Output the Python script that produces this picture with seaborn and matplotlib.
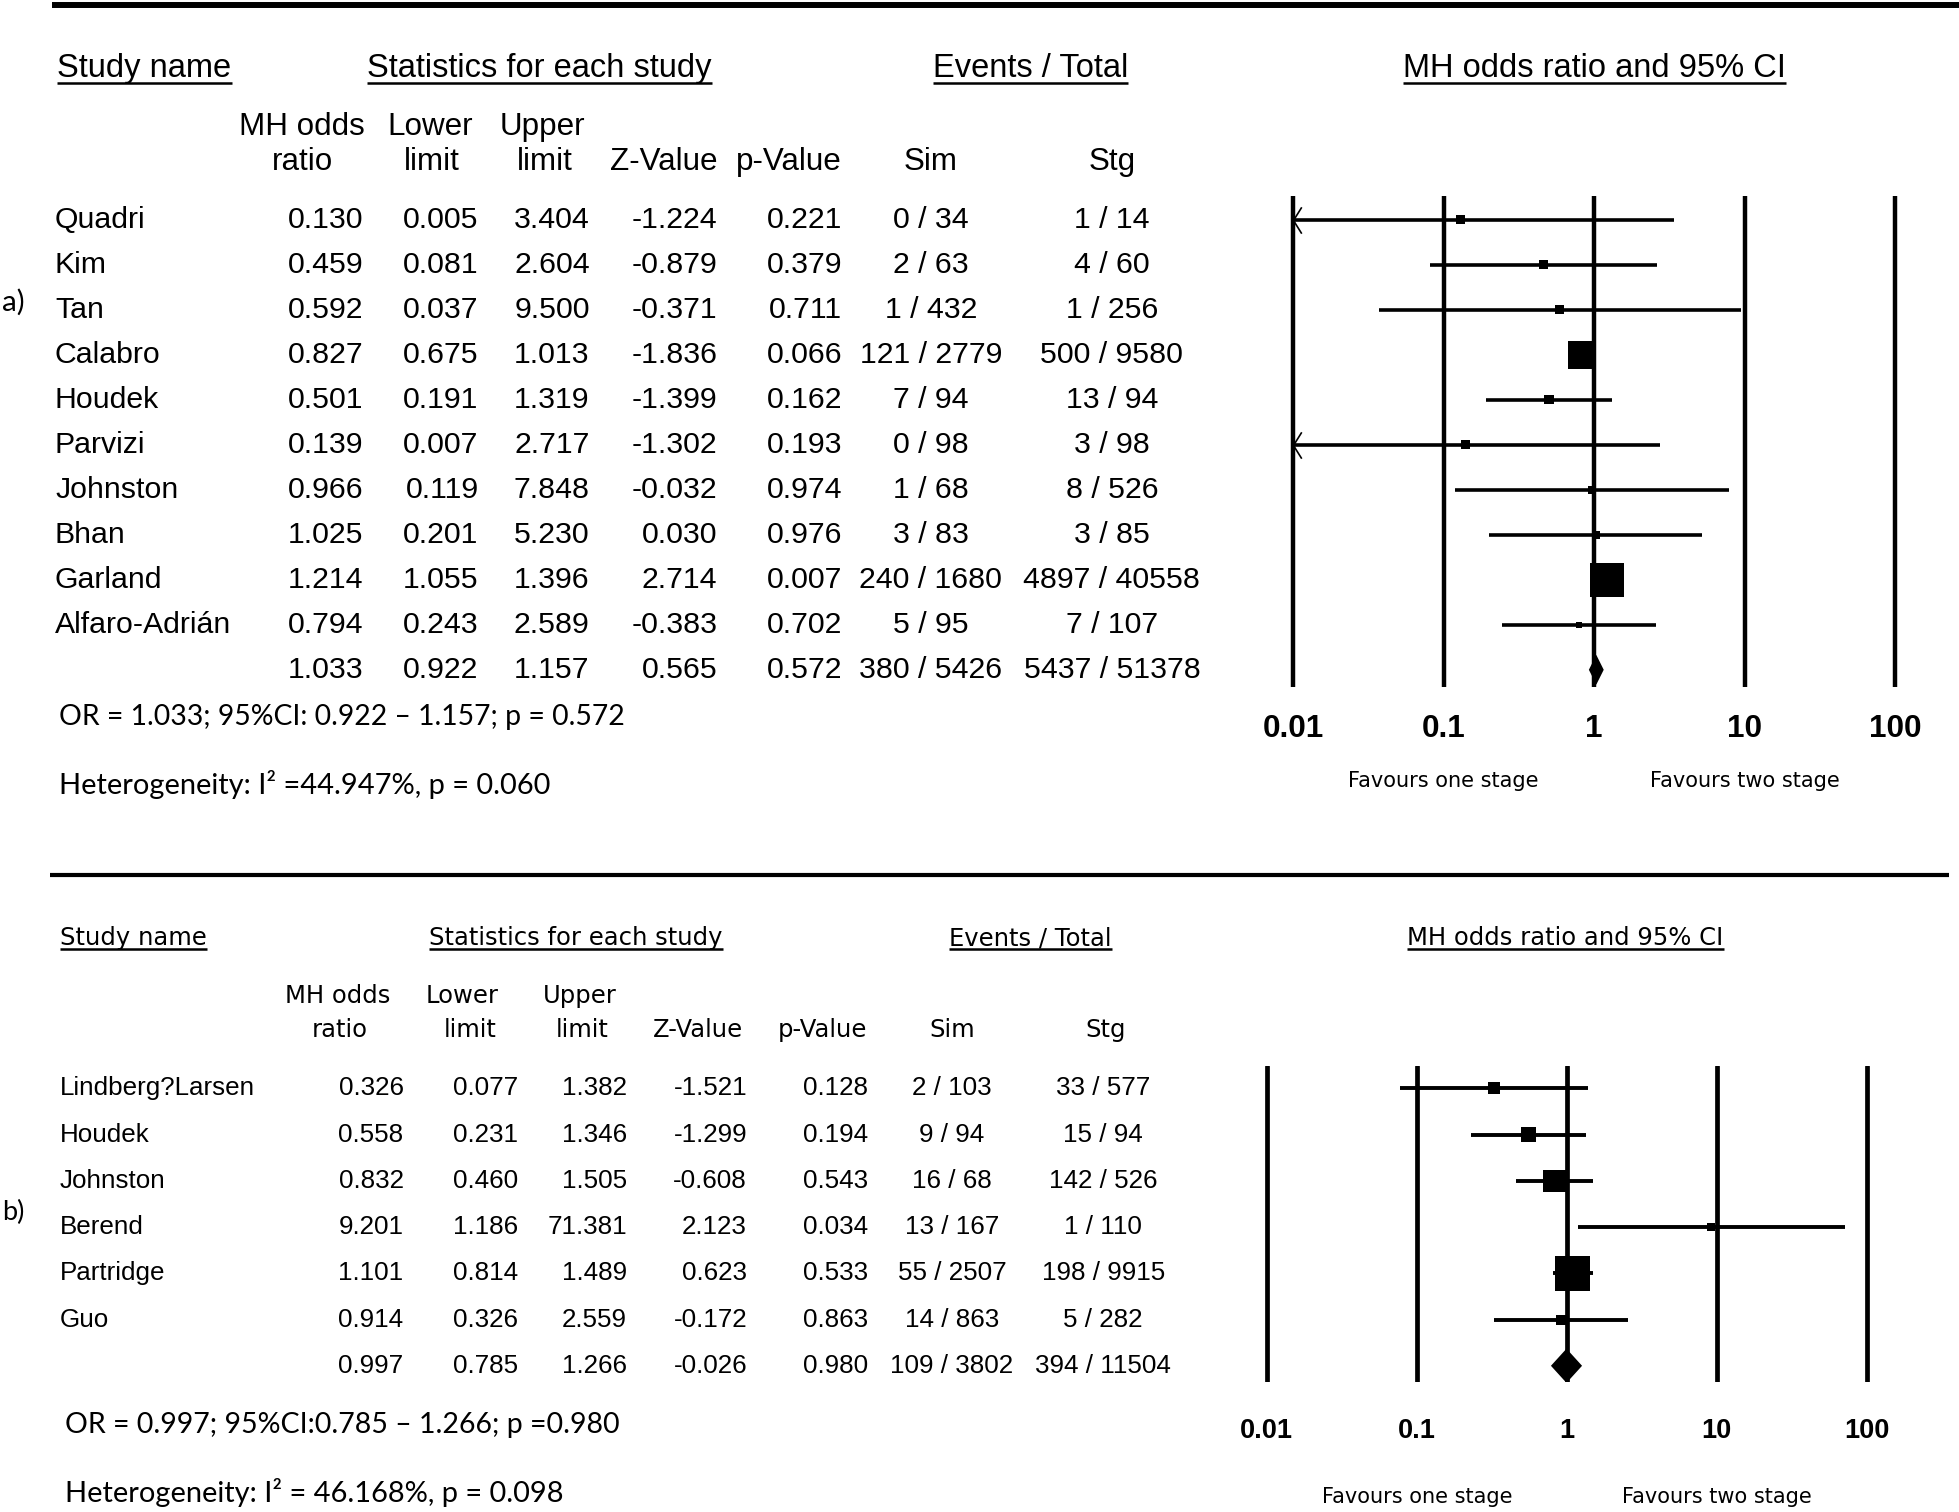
import numpy as np
import pandas as pd
import seaborn as sns
import matplotlib
matplotlib.use("Agg")
import matplotlib.pyplot as plt
from matplotlib import transforms, font_manager
from matplotlib.lines import Line2D
from matplotlib.path import Path

# ---------------- data: panel a ----------------
study_a = ["Quadri", "Kim", "Tan", "Calabro", "Houdek", "Parvizi", "Johnston", "Bhan", "Garland", "Alfaro-Adrián"]
or_a = [0.130, 0.459, 0.592, 0.827, 0.501, 0.139, 0.966, 1.025, 1.214, 0.794]
lower_a = [0.005, 0.081, 0.037, 0.675, 0.191, 0.007, 0.119, 0.201, 1.055, 0.243]
upper_a = [3.404, 2.604, 9.500, 1.013, 1.319, 2.717, 7.848, 5.230, 1.396, 2.589]
z_a = [-1.224, -0.879, -0.371, -1.836, -1.399, -1.302, -0.032, 0.030, 2.714, -0.383]
p_a = [0.221, 0.379, 0.711, 0.066, 0.162, 0.193, 0.974, 0.976, 0.007, 0.702]
sim_a = ["0 / 34", "2 / 63", "1 / 432", "121 / 2779", "7 / 94", "0 / 98", "1 / 68", "3 / 83", "240 / 1680", "5 / 95"]
stg_a = ["1 / 14", "4 / 60", "1 / 256", "500 / 9580", "13 / 94", "3 / 98", "8 / 526", "3 / 85", "4897 / 40558", "7 / 107"]
weight_a = [3.3, 3.3, 3.3, 30.5, 3.3, 3.3, 2.6, 2.6, 46.6, 1.5]
pooled_a = [1.033, 0.922, 1.157, 0.565, 0.572]
pooled_events_a = ["380 / 5426", "5437 / 51378"]
summary_a = "OR = 1.033; 95%CI: 0.922 \u2013 1.157; p = 0.572"
hetero_a = "Heterogeneity: I\u00b2 =44.947%, p = 0.060"

# ---------------- data: panel b ----------------
study_b = ["Lindberg?Larsen", "Houdek", "Johnston", "Berend", "Partridge", "Guo"]
or_b = [0.326, 0.558, 0.832, 9.201, 1.101, 0.914]
lower_b = [0.077, 0.231, 0.460, 1.186, 0.814, 0.326]
upper_b = [1.382, 1.346, 1.505, 71.381, 1.489, 2.559]
z_b = [-1.521, -1.299, -0.608, 2.123, 0.623, -0.172]
p_b = [0.128, 0.194, 0.543, 0.034, 0.533, 0.863]
sim_b = ["2 / 103", "9 / 94", "16 / 68", "13 / 167", "55 / 2507", "14 / 863"]
stg_b = ["33 / 577", "15 / 94", "142 / 526", "1 / 110", "198 / 9915", "5 / 282"]
weight_b = [6.4, 10.0, 22.4, 2.5, 54.3, 4.4]
pooled_b = [0.997, 0.785, 1.266, -0.026, 0.980]
pooled_events_b = ["109 / 3802", "394 / 11504"]
summary_b = "OR = 0.997; 95%CI:0.785 \u2013 1.266; p =0.980"
hetero_b = "Heterogeneity: I\u00b2 = 46.168%, p = 0.098"

tick_values = [0.01, 0.1, 1, 10, 100]
tick_labels = ["0.01", "0.1", "1", "10", "100"]
favours = ["Favours one stage", "Favours two stage"]
headers = ["Study name", "Statistics for each study", "Events / Total", "MH odds ratio and 95% CI"]
sub1 = ["MH odds", "Lower", "Upper"]
sub2 = ["ratio", "limit", "limit", "Z-Value", "p-Value", "Sim", "Stg"]

# ---------------- style ----------------
sns.set_theme(style="white")
plt.rcParams["font.family"] = ["DejaVu Sans"]
names = {f.name for f in font_manager.fontManager.ttflist}
HAVE_NARROW = "Liberation Sans Narrow" in names
NARROW = ["Liberation Sans Narrow", "Liberation Sans", "DejaVu Sans"]
NS = 1.0 if HAVE_NARROW else 0.87
CAL = ["Lato", "Open Sans", "DejaVu Sans"]
TAH = ["DejaVu Sans"]

W, H = 1568.0, 1210.0
FW, FH = 1959, 1512
def fx(x):
    return x / W
def fy(y):
    return 1 - y / H

fig = plt.figure(figsize=(FW / 100, FH / 100), dpi=100)
fig.patch.set_facecolor("white")

layout_a = dict(rule_y=4, rule_x=(42, 1568), rule_lw=4.3, tag="a)", tag_y=242,
                head_y=55, head_x=[46, 432, 825, 1276], head_font=NARROW, head_fs=27 * NS,
                sub_y=(102, 130), sub1_x=[242, 344, 434], sub2_x=[242, 346, 436, 531, 631, 745, 890],
                sub_font=NARROW, sub_fs=26 * NS,
                col_x=[44, 291, 383, 472, 574, 674, 745, 890], data_font=NARROW, data_fs=25 * NS,
                x001=1035, x100=1517, top=157, bottom=550, row0=176, spacing=36,
                vlw=3.2, cilw=2.6, smax_px=34, wmax=46.6, dia_h=0.33,
                tick_fs=26 * NS, tick_pad=19, fav_y=625, fav_fs=15,
                sum_x=47, sum_y=574, het_y=628, sum_w=452, het_w=393)
layout_b = dict(rule_y=700, rule_x=(40, 1560), rule_lw=3.0, tag="b)", tag_y=970,
                head_y=751, head_x=[48, 461, 825, 1253], head_font=TAH, head_fs=17.5,
                sub_y=(797, 824), sub1_x=[270, 370, 464], sub2_x=[272, 376, 466, 559, 658, 762, 885],
                sub_font=TAH, sub_fs=17.5,
                col_x=[48, 323, 415, 502, 598, 695, 762, 883], data_font=NARROW, data_fs=21.5 * NS,
                x001=1014, x100=1494, top=853, bottom=1106, row0=871, spacing=37,
                vlw=3.4, cilw=2.8, smax_px=35, wmax=54.3, dia_h=0.37,
                tick_fs=22.5 * NS, tick_pad=26, fav_y=1198, fav_fs=15,
                sum_x=52, sum_y=1140, het_y=1194, sum_w=442, het_w=399)

underline_texts = []
fit_texts = []

chevron = Path([(1.0, 1.6), (0.0, 0.0), (1.0, -1.6)], [Path.MOVETO, Path.LINETO, Path.LINETO])


def draw_panel(lay, study, est, lo, hi, z, p, sim, stg, weight, pooled, pooled_ev, summary, hetero):
    # horizontal rule
    fig.add_artist(Line2D([fx(lay["rule_x"][0]), fx(lay["rule_x"][1])], [fy(lay["rule_y"])] * 2,
                          transform=fig.transFigure, color="black", lw=lay["rule_lw"], solid_capstyle="butt"))
    # forest axes
    dec = (lay["x100"] - lay["x001"]) / 4.0
    m = 0.05
    left = lay["x001"] - m * dec
    right = lay["x100"] + m * dec
    ax = fig.add_axes([fx(left), fy(lay["bottom"]), (right - left) / W, (lay["bottom"] - lay["top"]) / H])
    ax.set_xscale("log")
    ax.set_xlim(10 ** (-2 - m), 10 ** (2 + m))
    r0, sp = lay["row0"], lay["spacing"]
    ax.set_ylim((lay["bottom"] - r0) / sp, (lay["top"] - r0) / sp)
    ax.set_facecolor("none")
    for s in ax.spines.values():
        s.set_visible(False)
    ax.set_yticks([])
    ax.minorticks_off()
    ax.set_xticks(tick_values)
    ax.set_xticklabels(tick_labels, fontfamily=NARROW, fontweight="bold", fontsize=lay["tick_fs"], color="black")
    ax.tick_params(axis="x", which="both", length=0, pad=lay["tick_pad"])
    ax.grid(False)

    for v in tick_values:
        ax.axvline(v, color="black", lw=lay["vlw"], zorder=1)

    n = len(study)
    rows = np.arange(n)
    df = pd.DataFrame({"study": study, "est": est, "lo": lo, "hi": hi, "row": rows, "w": weight})
    xmin_axis = 0.01
    lo_clip = np.maximum(df["lo"].values, xmin_axis)
    ax.hlines(df["row"], lo_clip, df["hi"], color="black", lw=lay["cilw"], zorder=2)
    cut = df["lo"].values < xmin_axis
    if cut.any():
        ax.plot(np.full(cut.sum(), xmin_axis), df["row"].values[cut], linestyle="none", marker=chevron,
                markersize=19, markerfacecolor="none", markeredgecolor="black", markeredgewidth=1.2, zorder=3)
    smax = (0.72 * lay["smax_px"]) ** 2
    sns.scatterplot(data=df, x="est", y="row", size="w", sizes=(0, smax), size_norm=(0, lay["wmax"]),
                    marker="s", color="black", linewidth=0, legend=False, ax=ax, zorder=4)
    ax.set_xlabel("")
    ax.set_ylabel("")
    # pooled diamond
    pe, pl, ph = pooled[0], pooled[1], pooled[2]
    yr = n
    h = lay["dia_h"]
    ax.fill([pl, pe, ph, pe], [yr, yr - h, yr, yr + h], color="black", lw=0, zorder=5)

    # transforms
    t_row = transforms.blended_transform_factory(fig.transFigure, ax.transData)
    t_fav = transforms.blended_transform_factory(ax.transData, fig.transFigure)

    # headers
    for i, (txt, x) in enumerate(zip(headers, lay["head_x"])):
        ha = "left" if i == 0 else "center"
        t = fig.text(fx(x), fy(lay["head_y"]), txt, ha=ha, va="center",
                     fontfamily=lay["head_font"], fontsize=lay["head_fs"], color="black")
        underline_texts.append(t)
    for txt, x in zip(sub1, lay["sub1_x"]):
        fig.text(fx(x), fy(lay["sub_y"][0]), txt, ha="center", va="center",
                 fontfamily=lay["sub_font"], fontsize=lay["sub_fs"], color="black")
    for txt, x in zip(sub2, lay["sub2_x"]):
        fig.text(fx(x), fy(lay["sub_y"][1]), txt, ha="center", va="center",
                 fontfamily=lay["sub_font"], fontsize=lay["sub_fs"], color="black")

    # table rows
    cx = lay["col_x"]
    kw = dict(transform=t_row, va="center", fontfamily=lay["data_font"], fontsize=lay["data_fs"], color="black")
    for i in range(n):
        fig.text(fx(cx[0]), i, study[i], ha="left", **kw)
        for j, v in enumerate([est[i], lo[i], hi[i], z[i], p[i]]):
            fig.text(fx(cx[1 + j]), i, f"{v:.3f}", ha="right", **kw)
        fig.text(fx(cx[6]), i, sim[i], ha="center", **kw)
        fig.text(fx(cx[7]), i, stg[i], ha="center", **kw)
    for j, v in enumerate(pooled):
        fig.text(fx(cx[1 + j]), n, f"{v:.3f}", ha="right", **kw)
    fig.text(fx(cx[6]), n, pooled_ev[0], ha="center", **kw)
    fig.text(fx(cx[7]), n, pooled_ev[1], ha="center", **kw)

    # favours
    fig.text(0.1, fy(lay["fav_y"]), favours[0], transform=t_fav, ha="center", va="center",
             fontfamily=TAH, fontsize=lay["fav_fs"], color="black")
    fig.text(10, fy(lay["fav_y"]), favours[1], transform=t_fav, ha="center", va="center",
             fontfamily=TAH, fontsize=lay["fav_fs"], color="black")

    # summary lines
    t1 = fig.text(fx(lay["sum_x"]), fy(lay["sum_y"]), summary, ha="left", va="center",
                  fontfamily=CAL, fontsize=19, color="black")
    t2 = fig.text(fx(lay["sum_x"]), fy(lay["het_y"]), hetero, ha="left", va="center",
                  fontfamily=CAL, fontsize=19, color="black")
    fit_texts.append((t1, lay["sum_w"]))
    fit_texts.append((t2, lay["het_w"]))
    tg = fig.text(fx(2), fy(lay["tag_y"]), lay["tag"], ha="left", va="center",
                  fontfamily=CAL, fontsize=19, color="black")
    fit_texts.append((tg, 18))
    return ax


ax_a = draw_panel(layout_a, study_a, or_a, lower_a, upper_a, z_a, p_a, sim_a, stg_a, weight_a,
                  pooled_a, pooled_events_a, summary_a, hetero_a)
ax_b = draw_panel(layout_b, study_b, or_b, lower_b, upper_b, z_b, p_b, sim_b, stg_b, weight_b,
                  pooled_b, pooled_events_b, summary_b, hetero_b)

# fit summary text widths
fig.canvas.draw()
r = fig.canvas.get_renderer()
for t, wdisp in fit_texts:
    w = t.get_window_extent(r).width
    target = wdisp * FW / W
    t.set_fontsize(t.get_fontsize() * target / w)

# underlines for headers
fig.canvas.draw()
r = fig.canvas.get_renderer()
for t in underline_texts:
    bb = t.get_window_extent(r)
    y = (bb.y0 + 1) / FH
    fig.add_artist(Line2D([bb.x0 / FW, bb.x1 / FW], [y, y], transform=fig.transFigure,
                          color="black", lw=1.8, solid_capstyle="butt"))

fig.savefig("out.png", dpi=100, facecolor="white")
